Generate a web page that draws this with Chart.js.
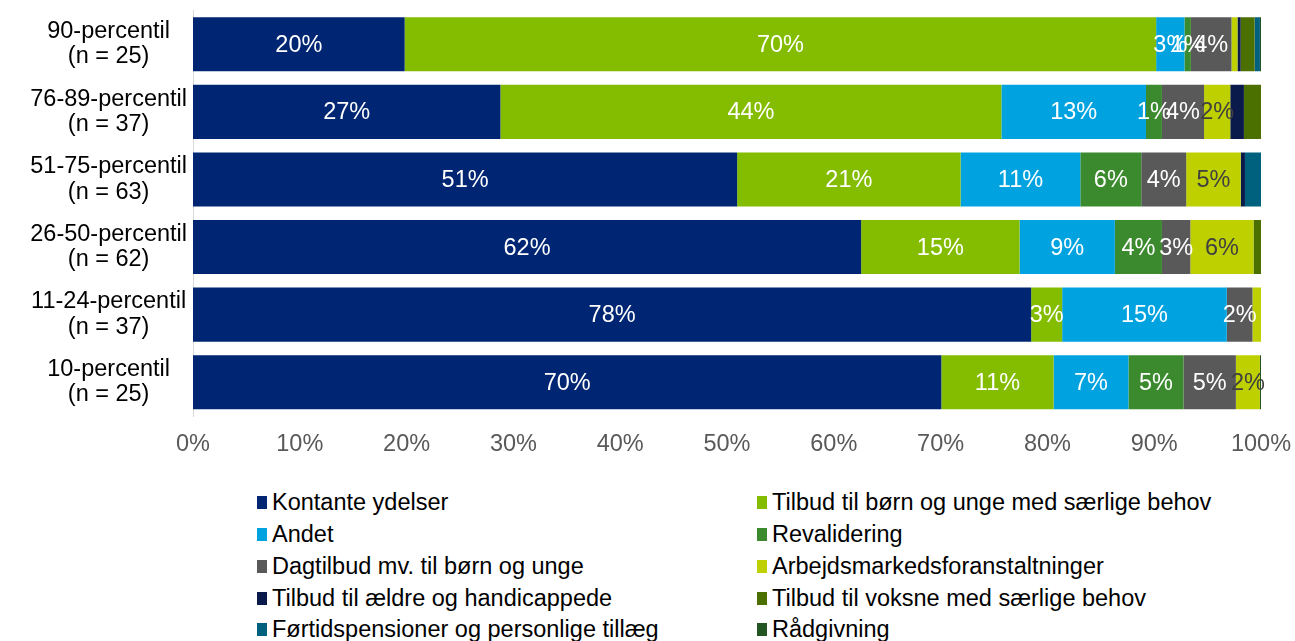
<!DOCTYPE html>
<html lang="da">
<head>
<meta charset="utf-8">
<title>Fordeling af udgifter efter percentil</title>
<script src="https://cdn.jsdelivr.net/npm/chart.js@4/dist/chart.umd.min.js"></script>
<style>
  body { margin: 0; background: #fff; font-family: "Liberation Sans", Arial, sans-serif; }
  #wrap { position: relative; width: 1295px; height: 641px; overflow: hidden; }
  #chartBox { position: absolute; left: 0; top: 0; width: 1295px; height: 470px; }
  #legend {
    position: absolute; left: 257px; top: 487px;
    display: grid; grid-template-columns: 500px 500px; grid-auto-rows: 31.75px;
    font-size: 23.5px; color: #000;
  }
  #legend .item { display: flex; align-items: center; white-space: nowrap; }
  #legend .box { width: 10px; height: 13px; margin-right: 5px; flex: none; }
</style>
</head>
<body>
<div id="wrap">
  <div id="chartBox"><canvas id="shareChart"></canvas></div>
  <div id="legend"></div>
</div>
<script>
const categories = [
    ['90-percentil', '(n = 25)'],
    ['76-89-percentil', '(n = 37)'],
    ['51-75-percentil', '(n = 63)'],
    ['26-50-percentil', '(n = 62)'],
    ['11-24-percentil', '(n = 37)'],
    ['10-percentil', '(n = 25)']
];
const xTicks = [0, 10, 20, 30, 40, 50, 60, 70, 80, 90, 100];

// andele i procent pr. percentilgruppe (top til bund)
const kontanteYdelser   = [19.8, 27, 50.9, 62.4, 78.4, 70.0];
const tilbudBoernUnge   = [70.3, 44, 20.9, 14.8, 2.9, 10.5];
const andet             = [2.65, 12.7, 11.2, 8.9, 15.4, 7.0];
const revalidering      = [0.6, 1.4, 5.7, 4.4, 0, 5.15];
const dagtilbud         = [3.8, 3.7, 4.2, 2.65, 2.4, 4.9];
const arbejdsmarked     = [0.56, 2.3, 5.1, 5.9, 0.8, 2.25];
const aeldreHandicap    = [0.3, 1.2, 0.4, 0, 0, 0];
const tilbudVoksne      = [1.3, 1.5, 0, 0.7, 0, 0];
const foertidspension   = [0.5, 0, 1.5, 0, 0, 0];
const raadgivning       = [0.1, 0, 0, 0, 0, 0.1];

const series = [
    { label: 'Kontante ydelser', data: kontanteYdelser, color: '#002673', text: '#ffffff' },
    { label: 'Tilbud til børn og unge med særlige behov', data: tilbudBoernUnge, color: '#84bd00', text: '#ffffff' },
    { label: 'Andet', data: andet, color: '#00a3e0', text: '#ffffff' },
    { label: 'Revalidering', data: revalidering, color: '#3c8a2e', text: '#ffffff' },
    { label: 'Dagtilbud mv. til børn og unge', data: dagtilbud, color: '#595959', text: '#ffffff' },
    { label: 'Arbejdsmarkedsforanstaltninger', data: arbejdsmarked, color: '#bfd000', text: '#404040' },
    { label: 'Tilbud til ældre og handicappede', data: aeldreHandicap, color: '#0a1a4a', text: null },
    { label: 'Tilbud til voksne med særlige behov', data: tilbudVoksne, color: '#4b7000', text: null },
    { label: 'Førtidspensioner og personlige tillæg', data: foertidspension, color: '#00617f', text: null },
    { label: 'Rådgivning', data: raadgivning, color: '#235523', text: null }
];

// labels der ikke vises (serie, række)
const hiddenLabels = [[5, 0], [5, 4]];

// 100 % stablet: hver række skaleres til sin egen sum
const rowTotals = categories.map((_, i) => series.reduce((s, d) => s + d.data[i], 0));

const FONT = '"Liberation Sans", Arial, sans-serif';

const segmentLabels = {
    id: 'segmentLabels',
    afterDatasetsDraw(chart) {
        const ctx = chart.ctx;
        ctx.save();
        ctx.font = '23.5px ' + FONT;
        ctx.textAlign = 'center';
        ctx.textBaseline = 'middle';
        chart.data.datasets.forEach((ds, di) => {
            if (!ds.labelColor) return;
            const meta = chart.getDatasetMeta(di);
            meta.data.forEach((bar, i) => {
                const raw = ds.raw[i];
                const shown = Math.round(raw);
                if (shown < 1) return;
                if (hiddenLabels.some(h => h[0] === di && h[1] === i)) return;
                ctx.fillStyle = ds.labelColor;
                ctx.fillText(shown + '%', (bar.x + bar.base) / 2, bar.y + 1);
            });
        });
        ctx.restore();
    }
};

const ctx = document.getElementById('shareChart').getContext('2d');
const chart = new Chart(ctx, {
    type: 'bar',
    data: {
        labels: categories,
        datasets: series.map(s => ({
            label: s.label,
            data: s.data.map((v, i) => v / rowTotals[i] * 100),
            raw: s.data,
            labelColor: s.text,
            backgroundColor: s.color,
            borderWidth: 0,
            categoryPercentage: 1,
            barPercentage: 0.8
        }))
    },
    options: {
        indexAxis: 'y',
        responsive: true,
        maintainAspectRatio: false,
        animation: false,
        layout: { padding: { top: 10.5, right: 34, bottom: 0, left: 0 } },
        plugins: {
            legend: { display: false },
            tooltip: { enabled: false }
        },
        scales: {
            x: {
                stacked: true,
                min: 0,
                max: 100,
                afterBuildTicks(scale) {
                    scale.ticks = xTicks.map(v => ({ value: v }));
                },
                afterFit(scale) {
                    scale.height = 54;
                    scale.paddingLeft = 0;
                    scale.paddingRight = 0;
                },
                grid: { display: false, drawTicks: false },
                border: { display: false },
                ticks: {
                    padding: 14,
                    color: '#595959',
                    font: { family: FONT, size: 23.5 },
                    callback: v => v + '%'
                }
            },
            y: {
                stacked: true,
                afterFit(scale) {
                    scale.width = 193;
                    scale.paddingTop = 0;
                    scale.paddingBottom = 0;
                },
                grid: { display: false, drawTicks: false },
                border: { display: true, color: '#d9d9d9', width: 1 },
                ticks: {
                    crossAlign: 'center',
                    padding: 6,
                    color: '#000000',
                    font: { family: FONT, size: 23.5, lineHeight: 1.08 }
                }
            }
        }
    },
    plugins: [segmentLabels]
});

// forklaring i to kolonner
const legendEl = document.getElementById('legend');
chart.data.datasets.forEach(ds => {
    const item = document.createElement('div');
    item.className = 'item';
    const box = document.createElement('span');
    box.className = 'box';
    box.style.background = ds.backgroundColor;
    const txt = document.createElement('span');
    txt.textContent = ds.label;
    item.appendChild(box);
    item.appendChild(txt);
    legendEl.appendChild(item);
});
</script>
</body>
</html>
